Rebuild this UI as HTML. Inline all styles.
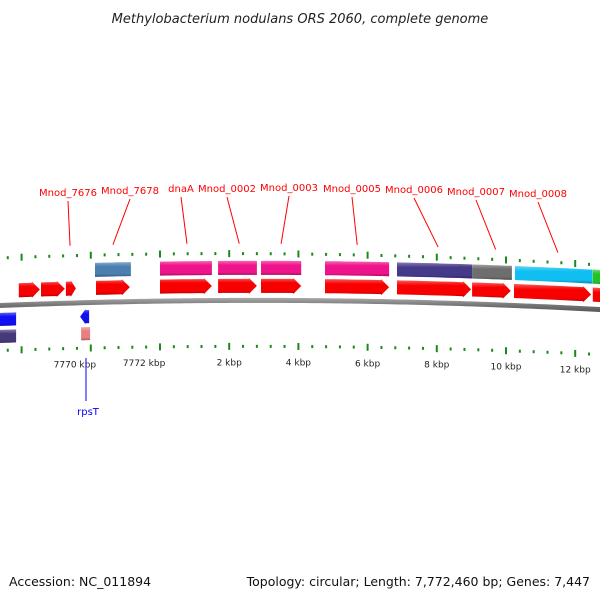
<!DOCTYPE html>
<html><head><meta charset="utf-8"><style>
body{margin:0;background:#fff}
svg{display:block;font-family:"DejaVu Sans","Liberation Sans",sans-serif}
</style></head><body>
<svg id="c" width="600" height="600" viewBox="0 0 600 600">
<defs>
<linearGradient id="gv" x1="0" y1="0" x2="0" y2="1">
<stop offset="0" stop-color="#fff" stop-opacity="0.35"/><stop offset="0.3" stop-color="#fff" stop-opacity="0"/><stop offset="0.8" stop-color="#000" stop-opacity="0"/><stop offset="1" stop-color="#000" stop-opacity="0.3"/>
</linearGradient>
<linearGradient id="bb" x1="0" y1="0" x2="0" y2="1"><stop offset="0" stop-color="#aaa"/><stop offset="0.5" stop-color="#777"/><stop offset="1" stop-color="#555"/></linearGradient>
</defs>
<text x="300" y="23" text-anchor="middle" font-size="13" font-style="italic" fill="#222">Methylobacterium nodulans ORS 2060, complete genome</text>
<text x="9" y="586" font-size="12.5" fill="#111">Accession: NC_011894</text>
<text x="590" y="586" text-anchor="end" font-size="12.5" fill="#111">Topology: circular; Length: 7,772,460 bp; Genes: 7,447</text>
<g id="g"></g>
</svg>
<script>
// positions in kbp relative to origin (negative = before origin, genome end 7772.46 kbp)
const fwdStarts=[-4.08,-3.44,-2.72,-1.85,0,1.68,2.92,4.77,6.85,9.02,10.23,12.51];
const fwdEnds=[-3.47,-2.75,-2.43,-0.87,1.50,2.80,4.08,6.62,8.99,10.14,12.46,13.2];
const upStarts=[-1.88,0,1.68,2.92,4.77,6.85,9.02,10.26,12.51];
const upEnds=[-0.84,1.50,2.80,4.08,6.62,9.02,10.17,12.5,13.2];
const upColors=["#4a7fb0","#f0148c","#f0148c","#f0148c","#f0148c","#45398a","#6e6e6e","#10bff2","#22c422"];
const revStarts=[-5,-2.31];
const revEnds=[-4.16,-2.05];
const revColors=["#1010f0","#1010f0"];
const rev2Starts=[-5,-2.28];
const rev2Ends=[-4.16,-2.02];
const rev2Colors=["#45397a","#e88080"];
const tickLabels=["7770 kbp","7772 kbp","2 kbp","4 kbp","6 kbp","8 kbp","10 kbp","12 kbp"];
const tickKbp=[-2.46,-0.46,2,4,6,8,10,12];
const geneNames=["Mnod_7676","Mnod_7678","dnaA","Mnod_0002","Mnod_0003","Mnod_0005","Mnod_0006","Mnod_0007","Mnod_0008"];
const geneLabelX=[68,130,181,227,289,352,414,476,538];
const geneLabelY=[196,194,192,192,191,192,193,195,197];
const geneTargetKbp=[-2.6,-1.36,0.78,2.29,3.5,5.7,8.04,9.7,11.5];

const NS="http://www.w3.org/2000/svg";
const g=document.getElementById('g');
const X=k=>160+k*34.6;
const B=x=>303-0.04*x+7.78e-5*x*x;
const T=x=>258-0.0383*x+8.33e-5*x*x;
const Bt=x=>350.5-0.0333*x+6.67e-5*x*x;
function el(t,a){const e=document.createElementNS(NS,t);for(const k in a)e.setAttribute(k,a[k]);g.appendChild(e);return e;}
function band(x1,x2,off,h){
  const n=6,pts=[];for(let i=0;i<=n;i++){const x=x1+(x2-x1)*i/n;pts.push([x,B(x)+off]);}
  const bot=pts.slice().reverse().map(p=>[p[0],p[1]+h]);return [pts,bot];
}
{let d="M0 "+B(0);for(let x=5;x<=600;x+=5)d+=" L"+x+" "+B(x);
let d2=d;for(let x=600;x>=0;x-=5)d2+=" L"+x+" "+(B(x)+5);d2+="Z";
const p=el('path',{d:d2,fill:'url(#bb)'});
}
for(let k=-5.2;k<=13.5;k+=0.4){
  const kr=Math.round(k*10)/10;const x=X(kr);
  if(x<0||x>600)continue;
  const major=Math.abs((kr+0.46)%2)<0.05||Math.abs(Math.abs((kr+0.46)%2)-2)<0.05||Math.abs(kr%2)<0.05;
  const h=major?7:3;
  const t1=el('rect',{x:x-1,y:T(x)-h/2,width:2,height:h,fill:'#1a8a1a'});
  
  const t2=el('rect',{x:x-1,y:Bt(x)-h/2,width:2,height:h,fill:'#1a8a1a'});
  
}
tickKbp.forEach((k,i)=>{const x=X(k);
  const t=el('text',{x:x,y:Bt(x)+19,'text-anchor':'middle','font-size':9,fill:'#222'});t.textContent=tickLabels[i];
  });
function drawBand(s,e,off,h,color,arrow,name){
  const x1=X(s),x2=X(e);const [top,bot]=band(x1,x2,off,h);
  let pts;
  if(arrow==='f'){const ah=Math.min(8,(x2-x1)*0.5);const tt=band(x1,x2-ah,off,h);
    const tip=[x2,B(x2)+off+h/2];pts=tt[0].concat([[x2-ah,B(x2-ah)+off-1],tip,[x2-ah,B(x2-ah)+off+h+1]],tt[1]);}
  else if(arrow==='r'){const ah=Math.min(6,(x2-x1)*0.6);const tt=band(x1+ah,x2,off,h);
    pts=tt[0].concat(tt[1],[[x1+ah,B(x1+ah)+off+h+1],[x1,B(x1)+off+h/2],[x1+ah,B(x1+ah)+off-1]]);}
  else pts=top.concat(bot);
  const ps=pts.map(p=>p[0].toFixed(1)+','+p[1].toFixed(1)).join(' ');
  const a=el('polygon',{points:ps,fill:color});
  
  const b=el('polygon',{points:ps,fill:'url(#gv)'});
  
}
fwdStarts.forEach((s,i)=>drawBand(s,fwdEnds[i],-19,14,'#f80000','f','cds-forward'));
upStarts.forEach((s,i)=>drawBand(s,upEnds[i],-37,14,upColors[i],null,'gene-forward'));
revStarts.forEach((s,i)=>drawBand(s,revEnds[i],10,13,revColors[i],i===1?'r':null,'cds-reverse'));
rev2Starts.forEach((s,i)=>drawBand(s,rev2Ends[i],27,13,rev2Colors[i],null,'gene-reverse'));
geneNames.forEach((n,i)=>{
  const tx=X(geneTargetKbp[i]);
  const l=el('line',{x1:geneLabelX[i],y1:geneLabelY[i]+5,x2:tx,y2:T(tx)-10,stroke:'#f00','stroke-width':1});
  
  const t=el('text',{x:geneLabelX[i],y:geneLabelY[i],'text-anchor':'middle','font-size':10,fill:'#f00'});t.textContent=n;
  
});
{const l=el('line',{x1:86,y1:358,x2:86,y2:401,stroke:'#00f','stroke-width':1});

const t=el('text',{x:88,y:415,'text-anchor':'middle','font-size':10,fill:'#00f'});t.textContent='rpsT';
}
</script>
</body></html>
